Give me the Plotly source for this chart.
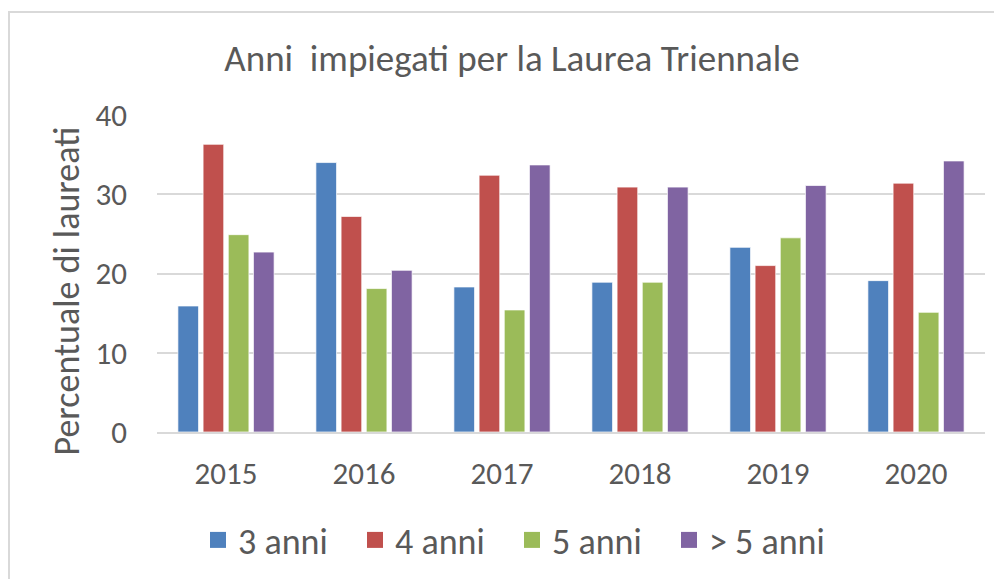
import plotly.graph_objects as go

years = ["2015", "2016", "2017", "2018", "2019", "2020"]
series_names = ["3 anni", "4 anni", "5 anni", "> 5 anni"]
anni_3 = [15.9, 34.0, 18.3, 18.9, 23.3, 19.1]
anni_4 = [36.3, 27.2, 32.4, 30.9, 21.0, 31.4]
anni_5 = [24.9, 18.1, 15.4, 18.9, 24.5, 15.1]
anni_oltre5 = [22.7, 20.4, 33.7, 30.9, 31.1, 34.2]
colors = ["#4F81BD", "#C0504D", "#9BBB59", "#8064A2"]

FONT = "Carlito, Calibri, Lato, sans-serif"
TXT = "#595959"

fig = go.Figure()
for name, vals, col in zip(series_names, [anni_3, anni_4, anni_5, anni_oltre5], colors):
    fig.add_trace(go.Bar(
        x=years, y=vals, name=name, showlegend=False, legendgroup=name,
        marker=dict(color=col, line=dict(color="rgba(255,255,255,0.7)", width=1)),
    ))
# legend proxies with larger square swatches
for name, col in zip(series_names, colors):
    fig.add_trace(go.Scatter(
        x=[None], y=[None], name=name, mode="markers", legendgroup=name,
        marker=dict(symbol="square", size=16, color=col, line=dict(width=0)),
    ))

# page body has an 8px margin, so figure coords = screen coords - 8
W, H = 994, 571
L, T = 149, 107
pw, ph = 828, 317
R, B = W - L - pw, H - T - ph

fig.update_layout(
    width=W, height=H,
    margin=dict(l=L, r=R, t=T, b=B),
    paper_bgcolor="white", plot_bgcolor="white",
    barmode="group", bargap=0.27, bargroupgap=0.18,
    font=dict(family=FONT, color=TXT),
    title=dict(text="Anni  impiegati per la Laurea Triennale",
               font=dict(size=37, color=TXT, family=FONT),
               x=504 / W, xanchor="center", y=1 - 50 / H, yanchor="middle",
               xref="container", yref="container"),
    legend=dict(orientation="h", x=(202 - 12) / W, xanchor="left", y=1 - 532 / H, yanchor="middle",
                xref="container", yref="container",
                font=dict(size=36, color=TXT, family=FONT), itemwidth=30,
                entrywidth=112, entrywidthmode="pixels", itemsizing="trace",
                traceorder="normal"),
    showlegend=True,
)
fig.update_xaxes(showgrid=False, showline=True, linecolor="#D9D9D9", linewidth=2,
                 ticks="", tickfont=dict(size=31, color=TXT), ticklabelstandoff=13)
fig.update_yaxes(range=[0, 40], dtick=10, showgrid=True, gridcolor="#D9D9D9", gridwidth=2,
                 zeroline=False, showline=False, ticks="",
                 tickfont=dict(size=31, color=TXT), ticklabelstandoff=29)

fig.add_annotation(text="Percentuale di laureati", textangle=-90,
                   xref="paper", yref="paper", x=(58 - L) / pw, y=(424 - 283.5) / ph,
                   xanchor="center", yanchor="middle", showarrow=False,
                   font=dict(size=36, color=TXT, family=FONT))

# chart area frame
fig.add_shape(type="rect", xref="paper", yref="paper",
              x0=(1 - L) / pw, x1=(W + 20 - L) / pw,
              y0=(T + ph - (H + 20)) / ph, y1=(T + ph - 4) / ph,
              line=dict(color="#D9D9D9", width=2), fillcolor="rgba(0,0,0,0)", layer="below")

fig.write_html("out.html")
